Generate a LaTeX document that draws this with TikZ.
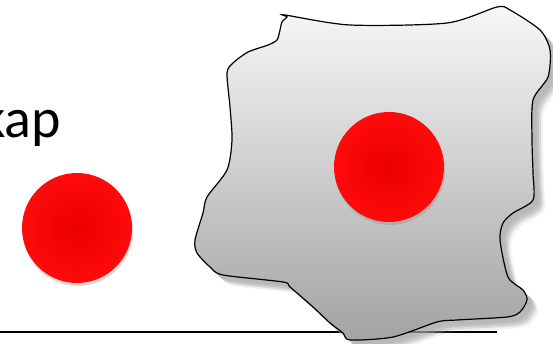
\documentclass[tikz,border=0pt]{standalone}
\usepackage{fontspec}
\setmainfont{Carlito}
\usetikzlibrary{shadows}

% outline of the grey region (pixel coordinates, y downwards)
\newcommand{\krajoutline}{plot[smooth cycle, tension=0.45] coordinates {
  (285,15) (350,25) (447,23) (497,7) (510,10) (540,30) (550,50) (548,77)
  (533,100) (532,140) (533,173) (533,200) (513,213) (503,223) (500,240)
  (508,277) (523,290) (527,300) (520,312) (507,317) (457,320) (437,322)
  (393,337) (350,340) (343,333) (330,323) (313,307) (290,287) (283,282)
  (223,275) (210,267) (197,253) (195,240) (203,213) (207,197) (227,170)
  (232,140) (230,107) (227,73) (233,63) (248,52) (268,45) (277,40)
  (280,30) (282,22) (287,17)}}

\begin{document}
\begin{tikzpicture}[
        x=1pt, y=-1pt,
        ball/.style={circle, minimum size=110pt, inner sep=0pt, shading=radial,
            inner color=red!92!black, outer color=red!96!white,
            drop shadow={shadow xshift=1pt, shadow yshift=-3pt, opacity=0.3}},
        ground/.style={line width=1.7pt, black},
        label/.style={font=\fontsize{56}{60}\selectfont, inner sep=0pt}
    ]
        \useasboundingbox (0,0) rectangle (553,344);

        % Ground line
        \coordinate (gl) at (0,332);
        \coordinate (gr) at (497,332);
        \draw[ground] (gl) -- (gr);

        % Text (cut at the left edge)
        \node[label, anchor=base east] (word) at (61,138) {kap};

        % Shadow of the region (a few soft layers)
        \foreach \dx/\op in {5/0.3, 7/0.35, 9/0.3, 11/0.15} {
            \fill[gray!75, opacity=\op, shift={(\dx,\dx)}] \krajoutline;
        }

        % Region
        \draw[line width=1.2pt, black, top color=gray!6, bottom color=gray!72] \krajoutline;

        % Balls
        \node[ball] (ballleft) at (77,228) {};
        \node[ball] (ballright) at (389,167) {};

    \end{tikzpicture}
\end{document}
